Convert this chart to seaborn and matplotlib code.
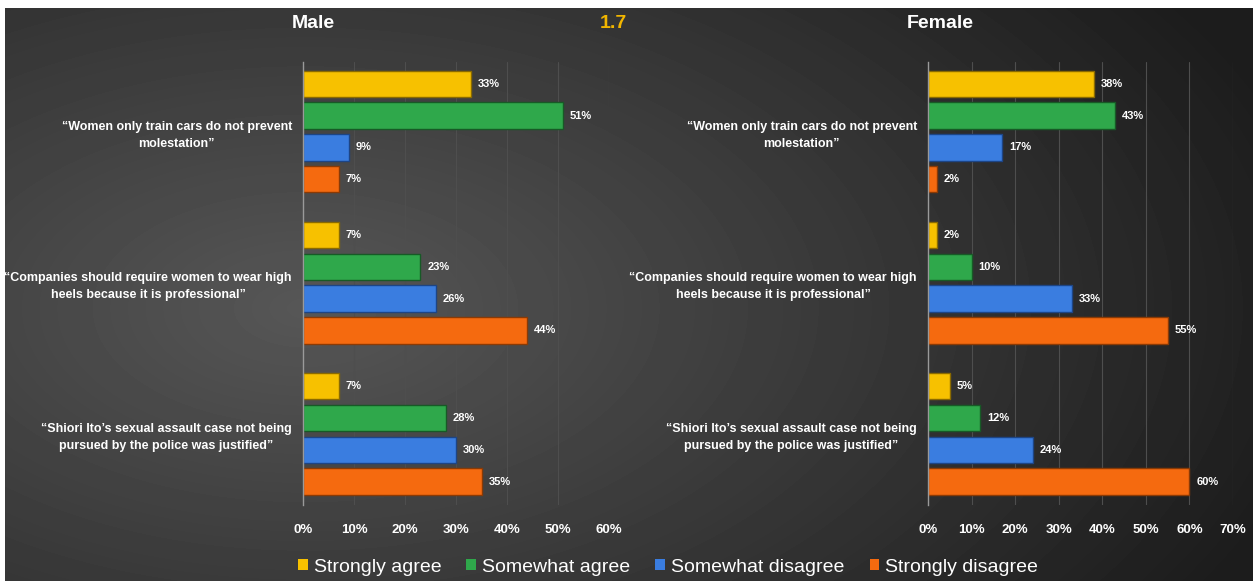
import matplotlib
matplotlib.use("Agg")
import matplotlib.pyplot as plt
from matplotlib.patches import Patch
import numpy as np
import pandas as pd
import seaborn as sns

statements = [
    "\u201cWomen only train cars do not prevent\nmolestation\u201d",
    "\u201cCompanies should require women to wear high\nheels because it is professional\u201d",
    "\u201cShiori Ito\u2019s sexual assault case not being\npursued by the police was justified\u201d",
]
responses = ["Strongly agree", "Somewhat agree", "Somewhat disagree", "Strongly disagree"]
colors = ["#f7c100", "#2fa84b", "#3a7de0", "#f56a0f"]
edges = ["#8a6a00", "#175a26", "#1d4586", "#8a3a05"]

male_strongly_agree = [0.33, 0.07, 0.07]
male_somewhat_agree = [0.51, 0.23, 0.28]
male_somewhat_disagree = [0.09, 0.26, 0.30]
male_strongly_disagree = [0.07, 0.44, 0.35]

female_strongly_agree = [0.38, 0.02, 0.05]
female_somewhat_agree = [0.43, 0.10, 0.12]
female_somewhat_disagree = [0.17, 0.33, 0.24]
female_strongly_disagree = [0.02, 0.55, 0.60]


def to_long(series):
    rows = []
    for resp, vals in zip(responses, series):
        for st, v in zip(statements, vals):
            rows.append({"Statement": st, "Response": resp, "Share": v})
    return pd.DataFrame(rows)


male_df = to_long([male_strongly_agree, male_somewhat_agree,
                   male_somewhat_disagree, male_strongly_disagree])
female_df = to_long([female_strongly_agree, female_somewhat_agree,
                     female_somewhat_disagree, female_strongly_disagree])

sns.set_theme(style="dark")
plt.rcParams["font.family"] = ["Liberation Sans", "DejaVu Sans"]

W, H = 1253, 581
fig = plt.figure(figsize=(W / 100, H / 100), dpi=100, facecolor="white")

# dark radial background (with the thin white border of the original)
bg = fig.add_axes([5 / W, 0, 1 - 5 / W, 1 - 8 / H])
yy, xx = np.mgrid[0:573, 0:1248]
r = np.sqrt(((xx - 300) / 950) ** 2 + ((yy - 300) / 520) ** 2)
shade = np.clip(0.34 - 0.21 * r, 0.11, 0.34)
bg.imshow(shade, cmap="gray", vmin=0, vmax=1, aspect="auto")
bg.axis("off")

panels = [
    (male_df, [303 / W, 76 / H, 306 / W, 443 / H], 0.6),
    (female_df, [928 / W, 76 / H, 305 / W, 443 / H], 0.7),
]

for df, rect, xmax in panels:
    ax = fig.add_axes(rect)
    ax.patch.set_alpha(0)
    sns.barplot(data=df, y="Statement", x="Share", hue="Response",
                hue_order=responses, palette=colors, orient="h",
                width=0.84, gap=0.17, saturation=1, ax=ax, legend=False)
    for cont, ec in zip(ax.containers, edges):
        for bar in cont:
            bar.set_edgecolor(ec)
            bar.set_linewidth(1)
        ax.bar_label(cont, labels=[f"{b.get_width():.0%}" for b in cont],
                     padding=5, color="white", fontsize=8, fontweight="bold")
    ax.set_xlim(0, xmax)
    ax.set_ylim(2.47, -0.46)
    ax.set_xticks(np.arange(0, xmax + 0.001, 0.1))
    ax.set_xticklabels([f"{t:.0%}" for t in ax.get_xticks()])
    ax.grid(axis="x", color="#4e4e4e", linewidth=0.8)
    ax.grid(axis="y", visible=False)
    ax.set_axisbelow(True)
    for s in ["top", "right", "bottom"]:
        ax.spines[s].set_visible(False)
    ax.spines["left"].set_color("#9a9a9a")
    ax.spines["left"].set_linewidth(1)
    ax.set_xlabel("")
    ax.set_ylabel("")
    ax.tick_params(axis="x", colors="white", labelsize=9.5, pad=14, length=0)
    ax.tick_params(axis="y", colors="white", labelsize=9, pad=8, length=0)
    for lab in ax.get_xticklabels():
        lab.set_fontweight("bold")
    for lab in ax.get_yticklabels():
        lab.set_fontweight("bold")
        lab.set_multialignment("center")
        lab.set_linespacing(1.5)

fig.text(313 / W, 1 - 24 / H, "Male", color="white", fontsize=14,
         fontweight="bold", ha="center", va="center")
fig.text(613 / W, 1 - 24 / H, "1.7", color="#f2b600", fontsize=14,
         fontweight="bold", ha="center", va="center")
fig.text(940 / W, 1 - 24 / H, "Female", color="white", fontsize=14,
         fontweight="bold", ha="center", va="center")

handles = [Patch(facecolor=c, edgecolor="none", label=l) for c, l in zip(colors, responses)]
leg = fig.legend(handles=handles, loc="center left", bbox_to_anchor=(298 / W, 1 - 567 / H),
                 ncol=4, frameon=False, fontsize=14, handlelength=0.5, handleheight=0.5,
                 handletextpad=0.3, columnspacing=1.3, borderaxespad=0, borderpad=0)
for t in leg.get_texts():
    t.set_color("white")

fig.savefig("out.png", dpi=100, facecolor=fig.get_facecolor())
